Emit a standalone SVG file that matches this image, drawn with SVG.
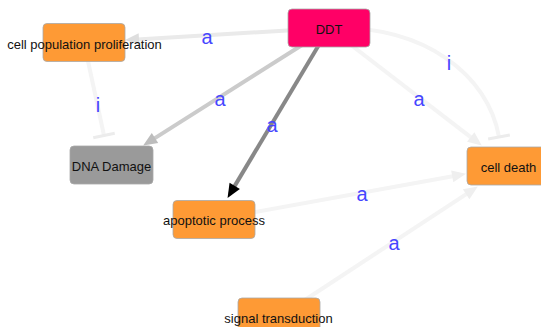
<svg xmlns="http://www.w3.org/2000/svg" width="541" height="327" viewBox="0 0 541 327">
  <style>
    .node rect { stroke: #a8a8a8; stroke-width: 0.8; }
    .orange rect { fill: #fe9a35; }
    .node text { font-family: "Liberation Sans", Arial, sans-serif; font-size: 13px; fill: #111; text-anchor: middle; }
    .edge { fill: none; stroke-width: 4; }
    .vlight { stroke: #f4f4f4; }
    .light { stroke: #eaeaea; }
    .mid { stroke: #cbcbcb; }
    .dark { stroke: #888888; }
    .lbl { font-family: "Liberation Sans", Arial, sans-serif; font-size: 20px; fill: #4646ff; text-anchor: middle; }
  </style>
  <defs>
    <marker id="arrVlight" markerUnits="userSpaceOnUse" markerWidth="20" markerHeight="20" refX="0" refY="0" orient="auto" overflow="visible">
      <path d="M12,0 L-2,-6 L-2,6 Z" fill="#efefef"/>
    </marker>
    <marker id="arrLight" markerUnits="userSpaceOnUse" markerWidth="20" markerHeight="20" refX="0" refY="0" orient="auto" overflow="visible">
      <path d="M12,0 L-2,-6 L-2,6 Z" fill="#dedede"/>
    </marker>
    <marker id="arrMid" markerUnits="userSpaceOnUse" markerWidth="20" markerHeight="20" refX="0" refY="0" orient="auto" overflow="visible">
      <path d="M12,0 L-2,-6 L-2,6 Z" fill="#bdbdbd"/>
    </marker>
    <marker id="arrDark" markerUnits="userSpaceOnUse" markerWidth="20" markerHeight="20" refX="0" refY="0" orient="auto" overflow="visible">
      <path d="M12,0 L-2,-6 L-2,6 Z" fill="#000000"/>
    </marker>
    <marker id="tee" markerUnits="userSpaceOnUse" markerWidth="30" markerHeight="30" refX="0" refY="0" orient="auto" overflow="visible">
      <path d="M0,-11 L0,11" stroke="#ececec" stroke-width="3"/>
    </marker>
  </defs>

  <g id="edges">
    <!-- DDT -> cell population proliferation -->
    <line class="edge light" x1="329" y1="28" x2="137" y2="39.4" marker-end="url(#arrLight)"/>
    <!-- DDT -> DNA Damage -->
    <line class="edge mid" x1="329" y1="28" x2="153.3" y2="139.1" marker-end="url(#arrMid)"/>
    <!-- DDT -> apoptotic process -->
    <line class="edge dark" x1="329" y1="28" x2="233.7" y2="187.6" marker-end="url(#arrDark)"/>
    <!-- DDT -> cell death -->
    <line class="edge vlight" x1="329" y1="28" x2="472.3" y2="138.3" marker-end="url(#arrVlight)"/>
    <!-- DDT -| cell death -->
    <path class="edge vlight" d="M329,28 C425,25 488,75 499,137" marker-end="url(#tee)"/>
    <!-- cell population proliferation -| DNA Damage -->
    <line class="edge vlight" x1="84" y1="42.5" x2="104" y2="135.5" marker-end="url(#tee)"/>
    <!-- apoptotic process -> cell death -->
    <line class="edge vlight" x1="214" y1="219.5" x2="454.2" y2="176" marker-end="url(#arrVlight)"/>
    <!-- signal transduction -> cell death -->
    <line class="edge vlight" x1="279" y1="317" x2="467.8" y2="193.1" marker-end="url(#arrVlight)"/>
  </g>

  <g id="node-ddt" class="node">
    <rect x="288" y="9" width="82" height="38" rx="4" fill="#ff0066" stroke="#d0507e"/>
    <text x="329" y="34">DDT</text>
  </g>
  <g id="node-cell-population-proliferation" class="node orange">
    <rect x="43" y="23.5" width="82" height="38" rx="4"/>
    <text x="84.5" y="49">cell population proliferation</text>
  </g>
  <g id="node-dna-damage" class="node">
    <rect x="70" y="146" width="83" height="38" rx="4" fill="#9a9a9a"/>
    <text x="111.5" y="170.5">DNA Damage</text>
  </g>
  <g id="node-apoptotic-process" class="node orange">
    <rect x="173" y="200.5" width="82" height="38" rx="4"/>
    <text x="214" y="224.5">apoptotic process</text>
  </g>
  <g id="node-cell-death" class="node orange">
    <rect x="467" y="147" width="82" height="38" rx="4"/>
    <text x="508.5" y="172">cell death</text>
  </g>
  <g id="node-signal-transduction" class="node orange">
    <rect x="238" y="298" width="82" height="38" rx="4"/>
    <text x="278.5" y="322.5">signal transduction</text>
  </g>

  <g id="edge-labels">
    <text class="lbl" x="207" y="44">a</text>
    <text class="lbl" x="220" y="106">a</text>
    <text class="lbl" x="272" y="132">a</text>
    <text class="lbl" x="419" y="106">a</text>
    <text class="lbl" x="449" y="70">i</text>
    <text class="lbl" x="98" y="112">i</text>
    <text class="lbl" x="362" y="201">a</text>
    <text class="lbl" x="394" y="250">a</text>
  </g>
</svg>
